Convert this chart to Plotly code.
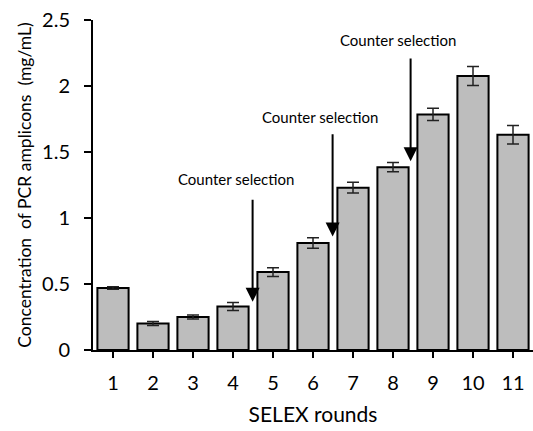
import plotly.graph_objects as go

rounds = [1, 2, 3, 4, 5, 6, 7, 8, 9, 10, 11]
tick_labels = ["1", "2", "3", "4", "5", "6", "7", "8", "9", "10", "11"]
concentration = [0.47, 0.20, 0.25, 0.33, 0.59, 0.81, 1.23, 1.385, 1.785, 2.075, 1.63]
error = [0.01, 0.015, 0.015, 0.03, 0.033, 0.04, 0.04, 0.035, 0.047, 0.072, 0.07]

# counter-selection arrows: (x of arrow, y tail, y tip, x of label, y of label)
arrow_x = [4.49, 6.49, 8.44]
arrow_tail_y = [1.15, 1.645, 2.22]
arrow_tip_y = [0.365, 0.86, 1.43]
label_x = [4.08, 6.18, 8.13]
label_y = [1.295, 1.767, 2.348]
label_text = "Counter selection"

FONT = "Lato, 'Open Sans', sans-serif"

fig = go.Figure()
fig.add_trace(go.Bar(
    x=rounds, y=concentration, width=0.78,
    marker=dict(color="#BDBDBD", line=dict(color="black", width=2)),
    error_y=dict(type="data", array=error, visible=True, color="#222222",
                 thickness=1.5, width=6),
))

for ax, ty, hy, lx, ly in zip(arrow_x, arrow_tail_y, arrow_tip_y, label_x, label_y):
    fig.add_annotation(x=ax, y=hy, ax=ax, ay=ty, xref="x", yref="y", axref="x", ayref="y",
                       text="", showarrow=True, arrowhead=2, arrowsize=1.4, arrowwidth=2,
                       arrowcolor="black", standoff=0, startstandoff=0)
    fig.add_annotation(x=lx, y=ly, xref="x", yref="y", text=label_text, showarrow=False,
                       font=dict(family=FONT, size=15, color="black"))

fig.update_layout(
    width=533, height=431,
    margin=dict(l=93, r=0, t=20, b=81, autoexpand=False),
    plot_bgcolor="white", paper_bgcolor="white",
    showlegend=False,
    font=dict(family=FONT, color="black"),
)
fig.update_xaxes(
    range=[0.5, 11.5], tickmode="array", tickvals=rounds, ticktext=tick_labels,
    showline=True, linecolor="black", linewidth=2,
    ticks="outside", ticklen=6, tickwidth=1.5, tickcolor="black",
    tickfont=dict(size=20, family=FONT), ticklabelstandoff=8,
    showgrid=False, zeroline=False, automargin=False,
    title=dict(text="SELEX rounds", font=dict(size=21, family=FONT), standoff=14),
)
fig.update_yaxes(
    range=[0, 2.5], tickmode="array", tickvals=[0, 0.5, 1, 1.5, 2, 2.5],
    ticktext=["0", "0.5", "1", "1.5", "2", "2.5"],
    showline=True, linecolor="black", linewidth=2,
    ticks="outside", ticklen=7, tickwidth=1.5, tickcolor="black",
    tickfont=dict(size=20, family=FONT), ticklabelstandoff=10,
    showgrid=False, zeroline=False, automargin=False,
    title=dict(text="Concentration  of PCR amplicons  (mg/mL)", font=dict(size=17.5, family=FONT), standoff=6),
)

fig.write_html("out.html", config={"displayModeBar": False},
               post_script="document.body.style.margin='0';")
